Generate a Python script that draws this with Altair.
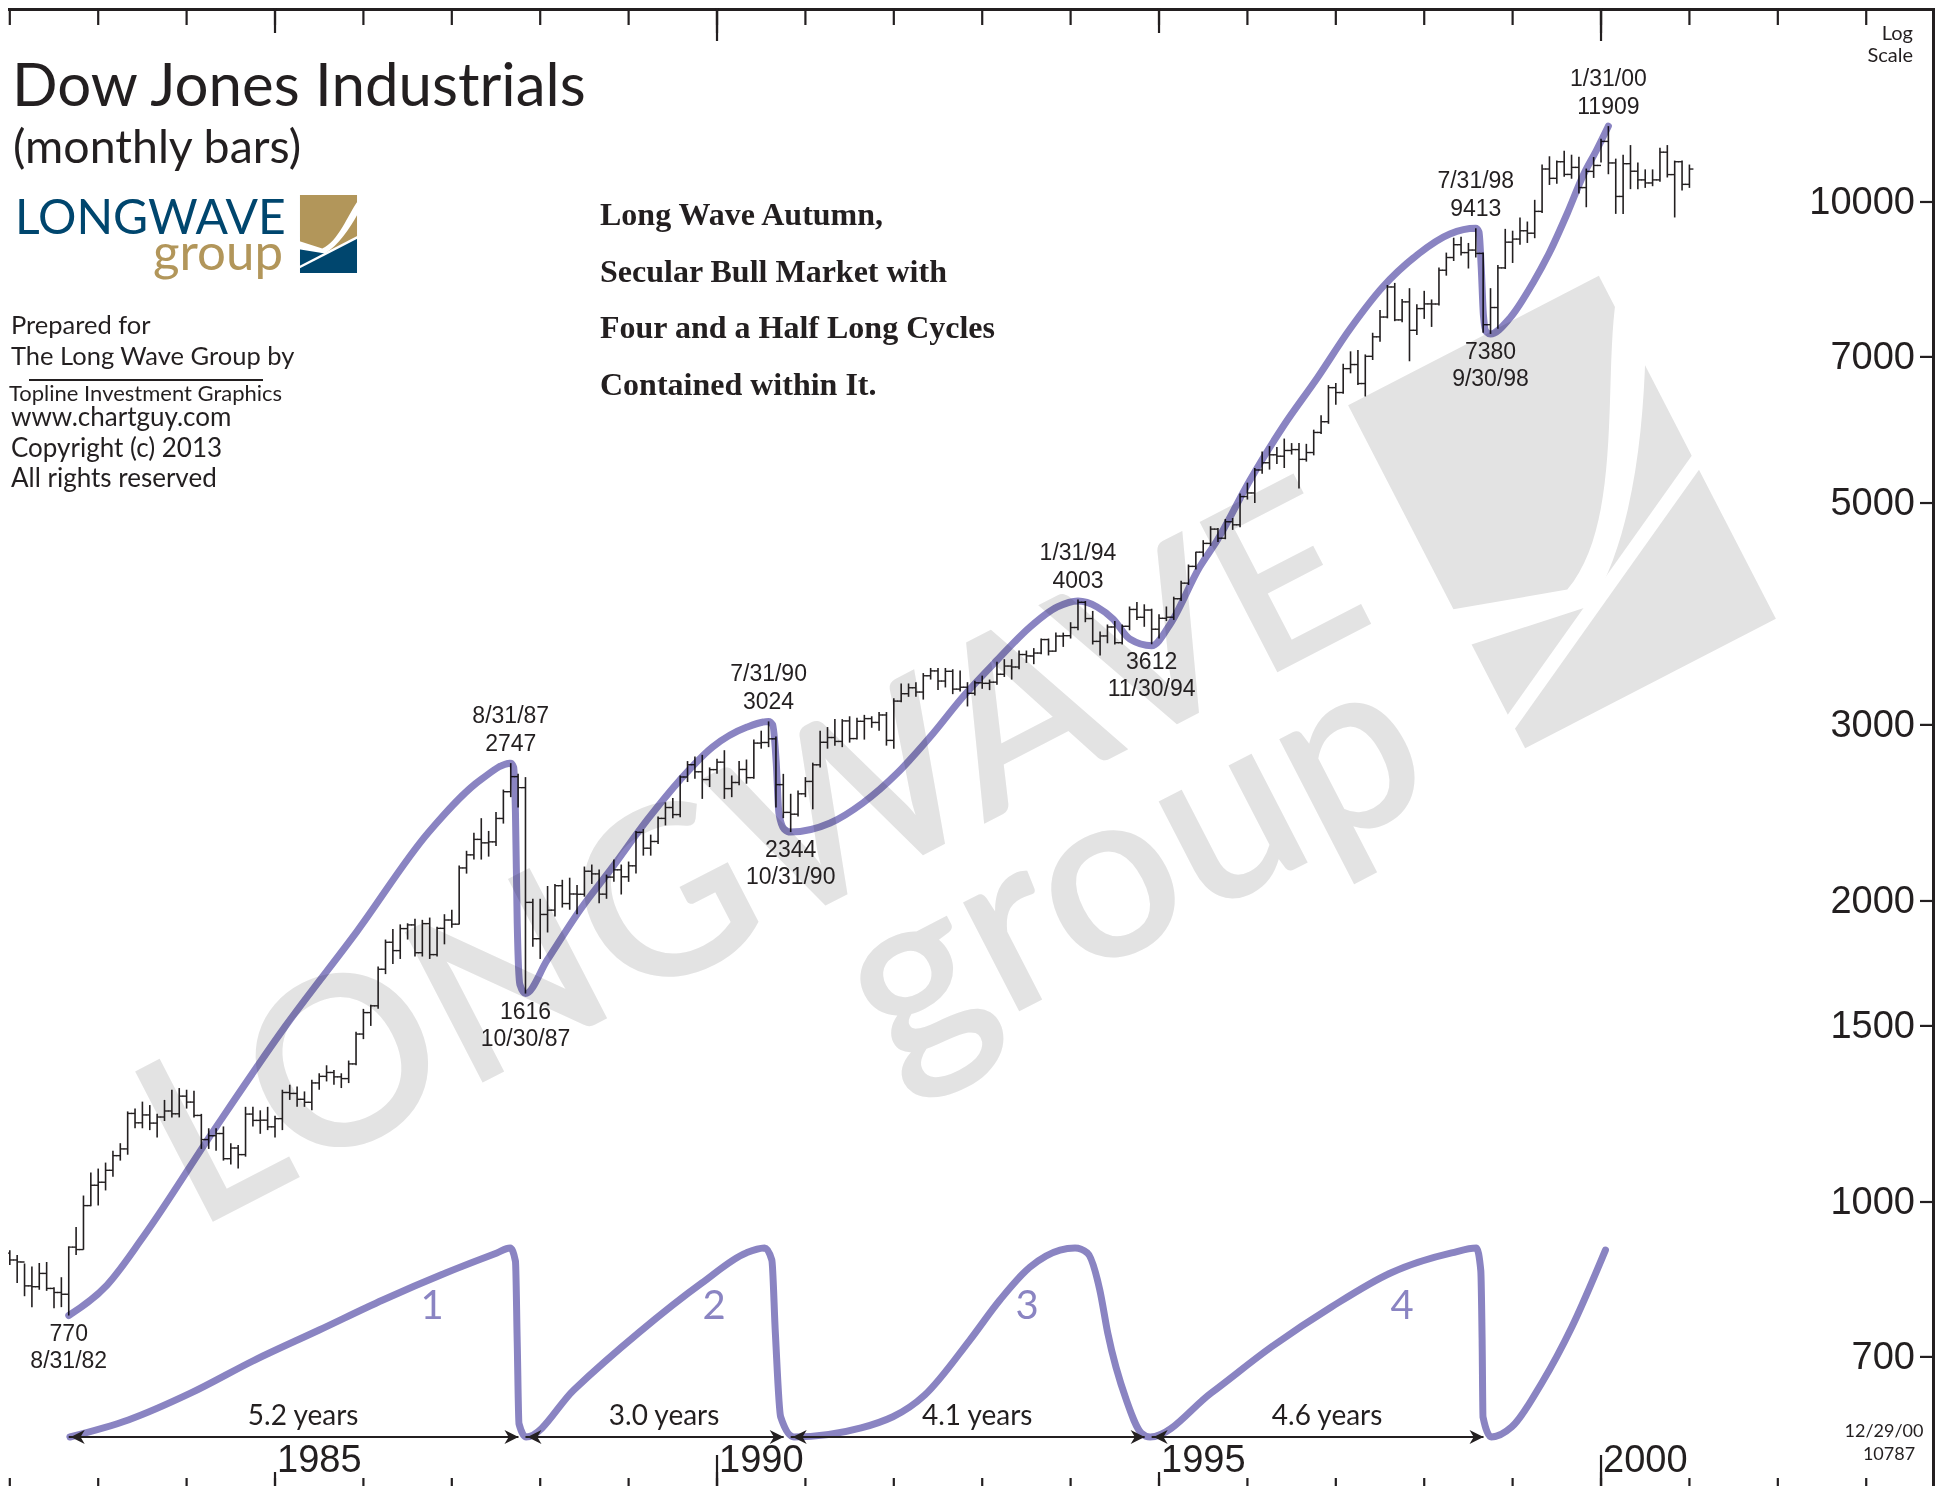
import altair as alt
import pandas as pd

W, H = 1927, 1478
X_DOMAIN = [1981.9796, 2003.778]
Y_DOMAIN = [520.0, 15631.0]
C_DOMAIN = [-0.2593, 7.5608]

INK = '#231f20'
PURPLE = '#8a84c2'
GRAY = '#e3e3e3'
BLUE = '#00466e'
GOLD = '#b2965a'

# ---------------- monthly bars, Dec 1981 .. Dec 2000 ----------------
FIRST_OPEN = 888.98
CLOSE = [
    875.00,
    871.10, 824.39, 822.77, 848.36, 819.54, 811.93, 808.60, 901.31, 896.25, 991.72, 1039.28, 1046.54,
    1075.70, 1112.62, 1130.03, 1226.20, 1199.98, 1221.96, 1199.22, 1216.16, 1233.13, 1225.20, 1276.02, 1258.64,
    1220.58, 1154.63, 1164.89, 1170.75, 1104.85, 1132.40, 1115.28, 1224.38, 1206.71, 1207.38, 1188.94, 1211.57,
    1286.77, 1284.01, 1266.78, 1258.06, 1315.41, 1335.46, 1347.45, 1334.01, 1328.63, 1374.31, 1472.13, 1546.67,
    1570.99, 1709.06, 1818.61, 1783.98, 1876.71, 1892.72, 1775.31, 1898.34, 1767.58, 1877.81, 1914.23, 1895.95,
    2158.04, 2223.99, 2304.69, 2286.36, 2291.57, 2418.53, 2572.07, 2662.95, 2596.28, 1993.53, 1833.55, 1938.83,
    1958.22, 2071.62, 1988.06, 2032.33, 2031.12, 2141.71, 2128.73, 2031.65, 2112.91, 2148.65, 2114.51, 2168.57,
    2342.32, 2258.39, 2293.62, 2418.80, 2480.15, 2440.06, 2660.66, 2737.27, 2692.82, 2645.08, 2706.27, 2753.20,
    2590.54, 2627.25, 2707.21, 2656.76, 2876.66, 2880.69, 2905.20, 2614.36, 2452.48, 2442.33, 2559.65, 2633.66,
    2736.39, 2882.18, 2913.86, 2887.87, 3027.50, 2906.75, 3024.82, 3043.60, 3016.77, 3069.10, 2894.68, 3168.83,
    3223.39, 3267.67, 3235.47, 3359.12, 3396.88, 3318.52, 3393.78, 3257.35, 3271.66, 3226.28, 3305.16, 3301.11,
    3310.03, 3370.81, 3435.11, 3427.55, 3527.43, 3516.08, 3539.47, 3651.25, 3555.12, 3680.59, 3683.95, 3754.09,
    3978.36, 3832.02, 3635.96, 3681.69, 3758.37, 3624.96, 3764.50, 3913.42, 3843.19, 3908.12, 3739.23, 3834.44,
    3843.86, 4011.05, 4157.69, 4321.27, 4465.14, 4556.10, 4708.47, 4610.56, 4789.08, 4755.48, 5074.49, 5117.12,
    5395.30, 5485.62, 5587.14, 5569.08, 5643.18, 5654.63, 5528.91, 5616.21, 5882.17, 6029.38, 6521.70, 6448.27,
    6813.09, 6877.74, 6583.48, 7008.99, 7331.04, 7672.79, 8222.61, 7622.42, 7945.26, 7442.08, 7823.13, 7908.25,
    7906.50, 8545.72, 8799.81, 9063.37, 8899.95, 8952.02, 8883.29, 7539.07, 7842.62, 8592.10, 9116.55, 9181.43,
    9358.83, 9306.58, 9786.16, 10789.04, 10559.74, 10970.80, 10655.15, 10829.28, 10336.95, 10729.94, 10877.81, 11497.12,
    10940.53, 10128.31, 10921.92, 10733.91, 10522.33, 10447.89, 10521.98, 11215.10, 10650.92, 10971.14, 10414.49, 10787.99,
]
HIGH = [
    895,
    885, 868, 862, 869, 871, 822, 841, 903, 944, 1015, 1070, 1080,
    1095, 1125, 1145, 1232, 1240, 1260, 1250, 1225, 1265, 1295, 1300, 1295,
    1292, 1225, 1185, 1185, 1190, 1145, 1140, 1245, 1245, 1235, 1245, 1220,
    1295, 1310, 1305, 1290, 1325, 1345, 1370, 1355, 1345, 1385, 1480, 1560,
    1575, 1720, 1830, 1875, 1895, 1900, 1920, 1915, 1925, 1885, 1940, 1960,
    2170, 2245, 2340, 2420, 2350, 2455, 2585, 2747, 2680, 2660, 2010, 2010,
    2070, 2080, 2100, 2110, 2075, 2165, 2175, 2150, 2125, 2200, 2175, 2190,
    2350, 2360, 2330, 2430, 2510, 2535, 2670, 2760, 2790, 2800, 2720, 2775,
    2830, 2670, 2760, 2770, 2900, 2960, 3024, 2920, 2680, 2560, 2580, 2660,
    2750, 2960, 2985, 3040, 3040, 3060, 3050, 3070, 3060, 3090, 3090, 3190,
    3300, 3300, 3310, 3380, 3420, 3420, 3420, 3410, 3400, 3310, 3320, 3360,
    3330, 3470, 3490, 3490, 3560, 3560, 3580, 3660, 3660, 3710, 3710, 3800,
    4003, 3990, 3900, 3720, 3780, 3810, 3780, 3940, 3980, 3960, 3920, 3870,
    3940, 4030, 4180, 4340, 4470, 4590, 4740, 4720, 4820, 4830, 5110, 5240,
    5420, 5630, 5700, 5690, 5800, 5740, 5740, 5730, 5920, 6120, 6560, 6590,
    6890, 7090, 7110, 7040, 7400, 7800, 8260, 8300, 8000, 8200, 7900, 8150,
    7990, 8600, 8900, 9210, 9230, 9100, 9413, 8900, 8200, 8650, 9400, 9360,
    9650, 9560, 10050, 10900, 11110, 11000, 11250, 11150, 11100, 10800, 11090, 11570,
    11909, 11050, 11150, 11400, 10950, 10780, 10780, 11330, 11400, 11000, 11000, 10900,
]
LOW = [
    865,
    830, 805, 785, 817, 815, 783, 785, 770, 885, 896, 990, 992,
    1027, 1060, 1100, 1115, 1185, 1185, 1180, 1160, 1205, 1215, 1215, 1240,
    1215, 1130, 1130, 1125, 1100, 1090, 1080, 1110, 1190, 1170, 1180, 1160,
    1180, 1265, 1245, 1245, 1235, 1295, 1320, 1310, 1300, 1315, 1370, 1455,
    1500, 1560, 1690, 1730, 1750, 1830, 1760, 1760, 1750, 1760, 1810, 1880,
    1895, 2130, 2200, 2200, 2215, 2270, 2390, 2540, 2480, 1616, 1800, 1750,
    1860, 1930, 1970, 1960, 1940, 2020, 2080, 1990, 2010, 2090, 2030, 2090,
    2130, 2220, 2220, 2280, 2380, 2420, 2425, 2630, 2650, 2530, 2600, 2680,
    2530, 2540, 2610, 2620, 2650, 2840, 2850, 2480, 2420, 2344, 2430, 2540,
    2470, 2720, 2840, 2860, 2850, 2880, 2900, 2900, 2980, 2960, 2860, 2840,
    3160, 3200, 3200, 3180, 3330, 3250, 3270, 3220, 3240, 3130, 3210, 3260,
    3250, 3290, 3350, 3330, 3410, 3460, 3450, 3530, 3520, 3550, 3590, 3660,
    3730, 3800, 3610, 3520, 3620, 3610, 3610, 3730, 3820, 3760, 3612, 3660,
    3810, 3820, 3990, 4140, 4290, 4420, 4530, 4570, 4600, 4700, 4730, 5040,
    5000, 5350, 5400, 5470, 5420, 5590, 5170, 5500, 5580, 5860, 6000, 6270,
    6430, 6740, 6560, 6390, 6950, 7250, 7650, 7600, 7580, 6930, 7360, 7640,
    7500, 7880, 8440, 8730, 8840, 8580, 8800, 7400, 7380, 7470, 8570, 8690,
    9060, 9100, 9200, 9750, 10400, 10430, 10600, 10550, 10200, 9880, 10570, 10950,
    10660, 9730, 9730, 10300, 10300, 10330, 10370, 10480, 10580, 9650, 10270, 10330,
]

# ---------------- long-wave curve ----------------
MAIN_T = [1982.667, 1983.10, 1983.51, 1984.31, 1985.12, 1985.93, 1986.74, 1987.34, 1987.667,
          1987.70, 1987.72, 1987.74, 1987.77, 1987.833,
          1988.08, 1988.45, 1988.82, 1989.21, 1989.58, 1989.95, 1990.34, 1990.583,
          1990.63, 1990.67, 1990.70, 1990.76, 1990.833,
          1991.28, 1991.65, 1992.04, 1992.41, 1992.78, 1993.17, 1993.54, 1993.85, 1994.083,
          1994.30, 1994.48, 1994.67, 1994.917,
          1995.12, 1995.46, 1995.66, 1996.03, 1996.40, 1996.79, 1997.16, 1997.53, 1997.92, 1998.29, 1998.583,
          1998.62, 1998.645, 1998.67, 1998.70, 1998.75,
          1998.97, 1999.23, 1999.42, 1999.62, 1999.80, 1999.95, 2000.083]
MAIN_V = [770, 826, 923, 1180, 1500, 1866, 2344, 2649, 2747,
          2720, 2450, 1900, 1650, 1616,
          1746, 1959, 2163, 2410, 2642, 2851, 2985, 3024,
          3000, 2750, 2450, 2360, 2344,
          2393, 2506, 2685, 2917, 3199, 3483, 3758, 3936, 3990,
          3936, 3828, 3656, 3600,
          3776, 4315, 4592, 5272, 5957, 6668, 7464, 8222, 8853, 9290, 9413,
          9330, 8600, 7700, 7420, 7380,
          7656, 8299, 8913, 9750, 10641, 11272, 11909]

# ---------------- cycle curve (relative height 0..1) ----------------
CYC_T = [1982.68, 1983.34, 1984.05, 1984.77, 1985.50, 1986.22, 1986.93, 1987.51, 1987.66,
         1987.72, 1987.74, 1987.76, 1987.84,
         1988.38, 1989.11, 1989.83, 1990.33, 1990.54,
         1990.62, 1990.66, 1990.72, 1990.87,
         1991.63, 1992.35, 1992.86, 1993.20, 1993.54, 1993.88, 1994.05,
         1994.19, 1994.33, 1994.42, 1994.63, 1994.80, 1994.90,
         1995.59, 1996.27, 1996.95, 1997.62, 1998.31, 1998.59,
         1998.64, 1998.655, 1998.665, 1998.76,
         1998.99, 1999.33, 1999.67, 2000.05]
CYC_V = [0, 0.09, 0.233, 0.407, 0.566, 0.725, 0.868, 0.974, 1.0,
         0.93, 0.5, 0.07, 0,
         0.249, 0.55, 0.815, 0.974, 1.0,
         0.936, 0.55, 0.106, 0,
         0.048, 0.222, 0.513, 0.725, 0.899, 0.989, 1.0,
         0.974, 0.778, 0.55, 0.196, 0.021, 0,
         0.233, 0.476, 0.688, 0.868, 0.974, 1.0,
         0.88, 0.51, 0.106, 0,
         0.053, 0.286, 0.582, 0.989]

PIVOT_DATES = ["8/31/82", "8/31/87", "10/30/87", "7/31/90", "10/31/90",
               "1/31/94", "11/30/94", "7/31/98", "9/30/98", "1/31/00"]
PIVOT_VALUES = [770, 2747, 1616, 3024, 2344, 4003, 3612, 9413, 7380, 11909]
PIVOT_KIND = ["low", "high", "low", "high", "low", "high", "low", "high", "low", "high"]

SEG_FROM = ["8/31/82", "10/30/87", "10/31/90", "11/30/94"]
SEG_TO = ["10/30/87", "10/31/90", "11/30/94", "9/30/98"]
SEG_LABEL = ["5.2 years", "3.0 years", "4.1 years", "4.6 years"]

Y_TICKS = [700, 1000, 1500, 2000, 3000, 5000, 7000, 10000]
YEAR_TICKS = list(range(1982, 2004))
YEAR_LABELS = [1985, 1990, 1995, 2000]


def to_t(s):
    m, d, y = (int(p) for p in s.split('/'))
    return (1900 + y if y > 50 else 2000 + y) + m / 12.0


bars = pd.DataFrame({
    't': [1982 + i / 12.0 for i in range(len(CLOSE))],
    'o': [FIRST_OPEN] + CLOSE[:-1],
    'h': HIGH, 'l': LOW, 'c': CLOSE,
})
main_df = pd.DataFrame({'t': MAIN_T, 'v': MAIN_V})
cyc_df = pd.DataFrame({'t': CYC_T, 'v': CYC_V})
piv = pd.DataFrame({'t': [to_t(s) for s in PIVOT_DATES], 'v': PIVOT_VALUES,
                    'date': PIVOT_DATES, 'val': [str(v) for v in PIVOT_VALUES],
                    'kind': PIVOT_KIND})
seg = pd.DataFrame({'t0': [to_t(s) for s in SEG_FROM], 't1': [to_t(s) for s in SEG_TO],
                    'label': SEG_LABEL, 'v': 0.0})
seg['mid'] = (seg['t0'] + seg['t1']) / 2
yt = pd.DataFrame({'v': Y_TICKS, 'label': [str(v) for v in Y_TICKS]})
xt = pd.DataFrame({'t': YEAR_TICKS})
xl = pd.DataFrame({'t': YEAR_LABELS, 'label': [str(v) for v in YEAR_LABELS]})
one = pd.DataFrame({'a': [0]})


def X(field='t'):
    return alt.X(f'{field}:Q', scale=alt.Scale(domain=X_DOMAIN, nice=False, zero=False), axis=None)


def YL(field):
    return alt.Y(f'{field}:Q', scale=alt.Scale(type='log', domain=Y_DOMAIN, nice=False), axis=None)


def YC(field):
    return alt.Y(f'{field}:Q', scale=alt.Scale(domain=C_DOMAIN, nice=False, zero=False), axis=None)


def txt(s, x, y, size, font='Lato', color=INK, align='left', weight='normal', angle=0):
    props = dict(fontSize=size, font=font, color=color, align=align, fontWeight=weight,
                 baseline='alphabetic')
    if angle:
        props['angle'] = angle
    return alt.Chart(one).mark_text(**props).encode(x=alt.value(x), y=alt.value(y), text=alt.value(s))


def shape(path, x, y, size, color, angle=0, stroke_only=False, sw=0):
    props = dict(shape=path, size=size, opacity=1)
    if angle:
        props['angle'] = angle
    if stroke_only:
        props.update(filled=False, stroke=color, strokeWidth=sw, strokeCap='butt')
    else:
        props.update(filled=True, fill=color, strokeWidth=0)
    return alt.Chart(one).mark_point(**props).encode(x=alt.value(x), y=alt.value(y))


# logo geometry in a unit box (x: -0.731..0.731, y: -1..1)
RECT_PATH = 'M-0.731,-1 L0.731,-1 L0.731,1 L-0.731,1 Z'
GOLD_PATH = 'M-0.731,-1 L0.731,-1 L0.731,0.09 L-0.09,0.50 L-0.731,0.30 Z'
BAND_PATH = ('M0.76,-0.86 C0.5,-0.5 0.25,0.2 -0.16,0.37 L-0.76,0.18 L-0.76,0.39 '
             'L-0.09,0.50 C0.25,0.30 0.55,-0.15 0.76,-0.53 Z')
SWOOSH2 = 'M-0.76,0.86 L0.76,0.075'
ARROW_R = 'M0,0 L-1,-0.5 L-0.7,0 L-1,0.5 Z'
ARROW_L = 'M0,0 L1,-0.5 L0.7,0 L1,0.5 Z'

layers = []

# ---- watermark (logo scaled and rotated) ----
WM_ANGLE = 332.7
WM_X, WM_Y, WM_SIZE = 1554, 504, 148996
layers += [
    txt('LONGWAVE', 187, 1223, 235, color=GRAY, angle=WM_ANGLE, weight=600),
    txt('group', 1434, 785, 240, color=GRAY, align='right', angle=WM_ANGLE, weight=600),
    shape(RECT_PATH, WM_X, WM_Y, WM_SIZE, GRAY, angle=WM_ANGLE),
    shape(BAND_PATH, WM_X, WM_Y, WM_SIZE, 'white', angle=WM_ANGLE),
    shape(SWOOSH2, WM_X, WM_Y, WM_SIZE, 'white', angle=WM_ANGLE, stroke_only=True, sw=14),
]

# ---- monthly bars ----
bb = alt.Chart(bars)
layers += [
    bb.mark_rule(color=INK, strokeWidth=1.6).encode(x=X(), y=YL('l'), y2='h:Q'),
    bb.mark_tick(color=INK, orient='horizontal', size=4, thickness=1.4, xOffset=-2, opacity=1)
      .encode(x=X(), y=YL('o')),
    bb.mark_tick(color=INK, orient='horizontal', size=4, thickness=1.4, xOffset=2, opacity=1)
      .encode(x=X(), y=YL('c')),
]

# ---- long wave curve ----
layers.append(
    alt.Chart(main_df).mark_line(color=PURPLE, strokeWidth=7, interpolate='monotone',
                                 strokeCap='round', strokeJoin='round', blend='multiply')
    .encode(x=X(), y=YL('v'))
)

# ---- pivot labels ----
pb = alt.Chart(piv)
lab = dict(font='Liberation Sans', fontSize=23, color=INK, align='center', baseline='alphabetic')
layers += [
    pb.transform_filter("datum.kind == 'high'").mark_text(dy=-40, **lab).encode(x=X(), y=YL('v'), text='date:N'),
    pb.transform_filter("datum.kind == 'high'").mark_text(dy=-12, **lab).encode(x=X(), y=YL('v'), text='val:N'),
    pb.transform_filter("datum.kind == 'low'").mark_text(dy=25, **lab).encode(x=X(), y=YL('v'), text='val:N'),
    pb.transform_filter("datum.kind == 'low'").mark_text(dy=52, **lab).encode(x=X(), y=YL('v'), text='date:N'),
]

# ---- y axis (right, inside) ----
yb = alt.Chart(yt)
layers += [
    yb.mark_rule(color=INK, strokeWidth=2.2).encode(x=alt.value(W - 15), x2=alt.value(W), y=YL('v')),
    yb.mark_text(font='Liberation Sans', fontSize=38, color=INK, align='right', baseline='middle', dy=1)
      .encode(x=alt.value(W - 20), y=YL('v'), text='label:N'),
]

# ---- cycle panel ----
sb = alt.Chart(seg)
layers += [
    alt.Chart(cyc_df).mark_line(color=PURPLE, strokeWidth=7, interpolate='monotone',
                                strokeCap='round', strokeJoin='round', blend='multiply')
    .encode(x=X(), y=YC('v')),
    sb.mark_rule(color=INK, strokeWidth=2, x2Offset=-7).encode(x=X('t0'), x2='t1:Q', y=YC('v')),
    sb.mark_point(shape=ARROW_R, filled=True, color=INK, size=784, opacity=1, strokeWidth=0, xOffset=-7)
      .encode(x=X('t1'), y=YC('v')),
    sb.mark_point(shape=ARROW_L, filled=True, color=INK, size=784, opacity=1, strokeWidth=0, xOffset=2)
      .encode(x=X('t0'), y=YC('v')),
    sb.mark_text(font='Lato', fontSize=28, color=INK, align='center', baseline='alphabetic', dy=-12, dx=6)
      .encode(x=X('mid'), y=YC('v'), text='label:N'),
]

# ---- frame and time ticks ----
xb = alt.Chart(xt)
layers += [
    alt.Chart(one).mark_rule(color=INK, strokeWidth=3).encode(x=alt.value(0), x2=alt.value(W), y=alt.value(1.5)),
    alt.Chart(one).mark_rule(color=INK, strokeWidth=3).encode(x=alt.value(W - 1.5), y=alt.value(0), y2=alt.value(H)),
    xb.mark_rule(color=INK, strokeWidth=2.2).encode(x=X(), y=alt.value(0), y2=alt.value(17)),
    xb.transform_filter('datum.t % 5 == 0').mark_rule(color=INK, strokeWidth=2.2)
      .encode(x=X(), y=alt.value(0), y2=alt.value(25)),
    xb.transform_filter('datum.t % 10 == 0').mark_rule(color=INK, strokeWidth=2.2)
      .encode(x=X(), y=alt.value(0), y2=alt.value(33)),
    xb.mark_rule(color=INK, strokeWidth=2.2).encode(x=X(), y=alt.value(H - 8), y2=alt.value(H)),
    xb.transform_filter('datum.t % 5 == 0').mark_rule(color=INK, strokeWidth=2.2)
      .encode(x=X(), y=alt.value(H - 14), y2=alt.value(H)),
    xb.transform_filter('datum.t % 10 == 0').mark_rule(color=INK, strokeWidth=2.2)
      .encode(x=X(), y=alt.value(H - 31), y2=alt.value(H)),
    alt.Chart(xl).mark_text(font='Liberation Sans', fontSize=38, color=INK, align='left',
                            baseline='alphabetic', dx=2)
      .encode(x=X(), y=alt.value(1464), text='label:N'),
]

# ---- header, logo and notes ----
LX, LY, LSIZE = 320.5, 226, 6084
layers += [
    txt('Dow Jones Industrials', 4, 98, 60),
    txt('(monthly bars)', 5, 155, 46.5),
    txt('LONGWAVE', 7, 226, 48, color=BLUE),
    txt('group', 275, 262, 51, color=GOLD, align='right'),
    shape(RECT_PATH, LX, LY, LSIZE, BLUE),
    shape(GOLD_PATH, LX, LY, LSIZE, GOLD),
    shape(BAND_PATH, LX, LY, LSIZE, 'white'),
    shape(SWOOSH2, LX, LY, LSIZE, 'white', stroke_only=True, sw=2.4),
    txt('Prepared for', 3, 326, 25.5),
    txt('The Long Wave Group by', 3, 357, 25.5),
    alt.Chart(one).mark_rule(color=INK, strokeWidth=2).encode(x=alt.value(21), x2=alt.value(255), y=alt.value(372)),
    txt('Topline Investment Graphics', 1, 393, 22),
    txt('www.chartguy.com', 3, 418, 26),
    txt('Copyright (c) 2013', 3, 449, 26),
    txt('All rights reserved', 3, 479, 26),
]
HEAD_FONT = 'Liberation Serif'
HEAD_SIZE = 32
layers += [
    txt('Long Wave Autumn,', 592, 217, HEAD_SIZE, font=HEAD_FONT, weight='bold'),
    txt('Secular Bull Market with', 592, 274, HEAD_SIZE, font=HEAD_FONT, weight='bold'),
    txt('Four and a Half Long Cycles', 592, 330, HEAD_SIZE, font=HEAD_FONT, weight='bold'),
    txt('Contained within It.', 592, 387, HEAD_SIZE, font=HEAD_FONT, weight='bold'),
    txt('Log', 1905, 32, 20, align='right'),
    txt('Scale', 1905, 54, 20, align='right'),
    txt('12/29/00', 1876, 1429, 18, align='center'),
    txt('10787', 1881, 1452, 18, align='center'),
    txt('1', 424, 1311, 40, color=PURPLE, align='center'),
    txt('2', 706, 1311, 40, color=PURPLE, align='center'),
    txt('3', 1019, 1311, 40, color=PURPLE, align='center'),
    txt('4', 1394, 1311, 40, color=PURPLE, align='center'),
]

chart = (
    alt.layer(*layers)
    .resolve_scale(y='independent')
    .properties(width=W, height=H, padding=0, autosize=alt.AutoSizeParams(type='none'))
    .configure_view(stroke=None)
)

chart.save('out.html', embed_options={'renderer': 'svg', 'actions': False})
